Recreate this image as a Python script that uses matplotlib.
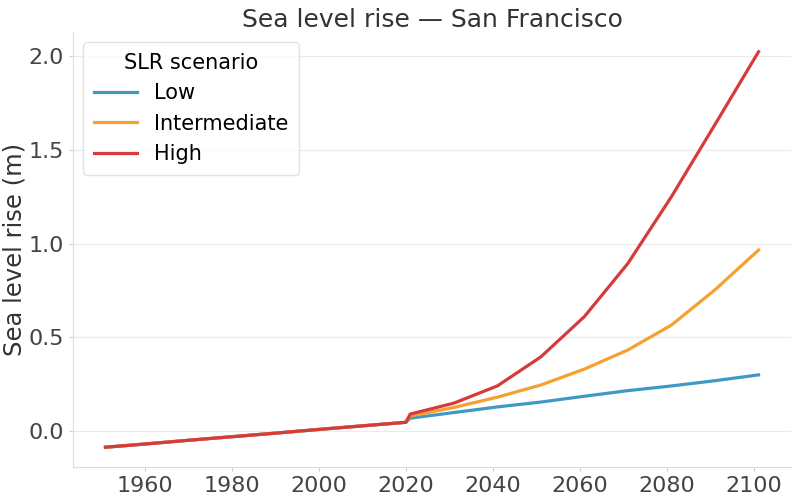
import matplotlib

matplotlib.use("Agg")
import matplotlib.pyplot as plt

# Observed record (shared by all scenarios)
hist_years = [1951, 1960, 1970, 1980, 1990, 2000, 2010, 2020]
hist_slr = [-0.087, -0.070, -0.050, -0.031, -0.012, 0.008, 0.027, 0.046]

# Projections per scenario
proj_years = [2021, 2031, 2041, 2051, 2061, 2071, 2081, 2091, 2101]
scenarios = ["Low", "Intermediate", "High"]
proj_slr = {
    "Low": [0.068, 0.098, 0.128, 0.154, 0.185, 0.215, 0.240, 0.268, 0.299],
    "Intermediate": [0.080, 0.125, 0.180, 0.245, 0.330, 0.432, 0.565, 0.753, 0.965],
    "High": [0.090, 0.148, 0.240, 0.395, 0.610, 0.894, 1.250, 1.635, 2.023],
}
colors = {"Low": "#4198c4", "Intermediate": "#f5a02f", "High": "#d63b3b"}

x_ticks = [1960, 1980, 2000, 2020, 2040, 2060, 2080, 2100]
y_ticks = [0.0, 0.5, 1.0, 1.5, 2.0]

fig = plt.figure(figsize=(8, 5), dpi=100)
ax = fig.add_axes([0.091, 0.066, 0.898, 0.870])

for name in scenarios:
    ax.plot(hist_years + proj_years, hist_slr + proj_slr[name],
            color=colors[name], lw=2.3, label=name)

ax.set_xticks(x_ticks)
ax.set_yticks(y_ticks)
ax.set_yticklabels([f"{v:.1f}" for v in y_ticks])
ax.tick_params(labelsize=16, colors="#444444", length=3, width=0.8)
ax.tick_params(color="#cccccc")
ax.grid(axis="y", color="#ebebeb", lw=0.9)
ax.set_axisbelow(True)
for side in ("top", "right"):
    ax.spines[side].set_visible(False)
for side in ("left", "bottom"):
    ax.spines[side].set_color("#dddddd")

ax.set_ylabel("Sea level rise (m)", fontsize=17.5, color="#333333")
ax.yaxis.set_label_coords(-0.064, 0.5)
ax.set_title("Sea level rise — San Francisco", fontsize=18, color="#333333", pad=3)

leg = ax.legend(title="SLR scenario", loc="upper left", fontsize=15,
                title_fontsize=15, frameon=True, borderpad=0.5,
                handlelength=2.1, handletextpad=0.8)
leg.get_frame().set_edgecolor("#dddddd")

fig.savefig("out.png", dpi=100)
